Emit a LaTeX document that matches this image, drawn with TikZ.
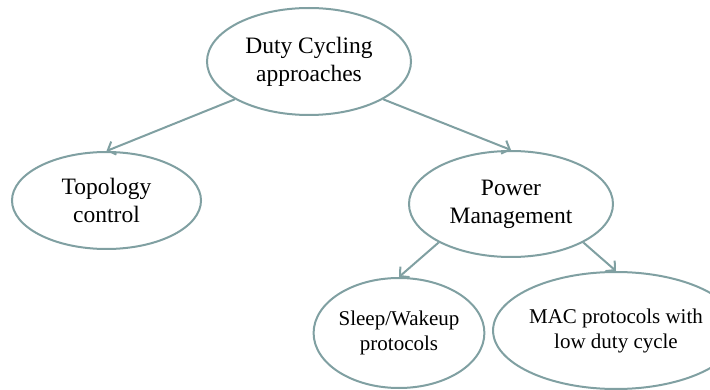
\documentclass[tikz,border=0pt]{standalone}
\usepackage{fontspec}
\setmainfont{Liberation Serif}
\usetikzlibrary{shapes.geometric,arrows.meta}
\definecolor{edgegray}{RGB}{128,160,162}
\tikzset{
  bubble/.style={ellipse, draw=edgegray, line width=2pt, fill=white,
    inner sep=0pt, align=center, text=black},
  bigtext/.style={font=\fontsize{23.5}{27.8}\selectfont},
  smalltext/.style={font=\fontsize{21}{25}\selectfont},
  link/.style={draw=edgegray, line width=2pt,
    -{Straight Barb[length=6.5pt,width=14pt,line width=2pt]}}
}
\begin{document}
\begin{tikzpicture}[x=1pt,y=-1pt]
  \useasboundingbox (0,0) rectangle (710,390);
  \fill[white] (0,0) rectangle (710,390);

  \node[bubble,bigtext,minimum width=204pt,minimum height=107pt] (root) at (309,61.5)
    {Duty Cycling\\approaches};
  \node[bubble,bigtext,minimum width=189pt,minimum height=97pt] (topo) at (106.5,200.5)
    {Topology\\control};
  \node[bubble,bigtext,minimum width=204pt,minimum height=106pt] (pm) at (511,204)
    {Power\\Management};
  \node[bubble,smalltext,minimum width=144pt,minimum height=110pt] (sleep) at (399,333)
    {Sleep/Wakeup\\protocols};
  \node[bubble,smalltext,minimum width=202pt,minimum height=117pt] (mac) at (616,330.5)
    {MAC protocols with\\low duty cycle};

  \draw[link] (root.207) -- (topo.north);
  \draw[link] (root.333) -- (pm.north);
  \draw[link] (pm.208) -- (sleep.north);
  \draw[link] (pm.332) -- (mac.north);
\end{tikzpicture}
\end{document}
